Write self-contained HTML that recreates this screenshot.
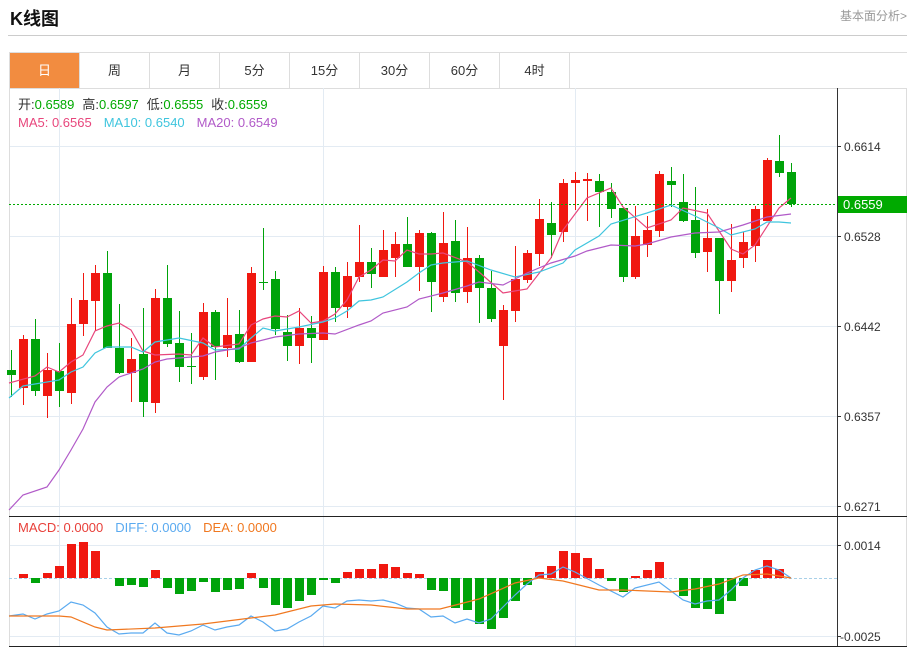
<!DOCTYPE html>
<html><head><meta charset="utf-8"><style>
body{margin:0;width:913px;height:647px;background:#fff;font-family:"Liberation Sans","Noto Sans CJK SC",sans-serif;overflow:hidden;position:relative}
.t{position:absolute;left:10px;top:5px;font-size:18px;font-weight:bold;color:#111}
.r{position:absolute;right:6px;top:7px;font-size:12px;color:#999}
.hl{position:absolute;left:8px;top:35px;width:899px;height:1px;background:#ccc}
.tabs{position:absolute;left:9px;top:52px;width:897px;height:35px;border:1px solid #ddd;border-right:none}
.tab{position:absolute;top:0;width:69px;height:35px;border-right:1px solid #ddd;text-align:center;line-height:35px;font-size:13px;color:#333}
.tab.a{background:#f28c40;color:#fff}
svg{position:absolute;left:0;top:0}
</style></head><body>
<div class="t">K线图</div><div class="r">基本面分析&gt;</div><div class="hl"></div>
<div class="tabs">
<div class="tab a" style="left:0">日</div><div class="tab" style="left:70px">周</div><div class="tab" style="left:140px">月</div><div class="tab" style="left:210px">5分</div><div class="tab" style="left:280px">15分</div><div class="tab" style="left:350px">30分</div><div class="tab" style="left:420px">60分</div><div class="tab" style="left:490px">4时</div>
</div>
<svg id="s" width="913" height="647" xmlns="http://www.w3.org/2000/svg" font-family="Liberation Sans, Noto Sans CJK SC, sans-serif">
<g stroke="#e3ebf3" stroke-width="1">
<line x1="9" y1="146.5" x2="837" y2="146.5"/><line x1="9" y1="236.5" x2="837" y2="236.5"/><line x1="9" y1="326.5" x2="837" y2="326.5"/><line x1="9" y1="416.5" x2="837" y2="416.5"/><line x1="9" y1="506.5" x2="837" y2="506.5"/>
<line x1="9" y1="545.5" x2="837" y2="545.5"/><line x1="9" y1="636.5" x2="837" y2="636.5"/>
<line x1="59.5" y1="88" x2="59.5" y2="646"/><line x1="323.5" y1="88" x2="323.5" y2="646"/><line x1="575.5" y1="88" x2="575.5" y2="646"/>
</g>
<line x1="9.5" y1="88" x2="9.5" y2="646" stroke="#ddd"/>
<line x1="906.5" y1="88" x2="906.5" y2="646" stroke="#ddd"/>
<line x1="837.5" y1="88" x2="837.5" y2="646" stroke="#333"/>
<line x1="9" y1="516.5" x2="907" y2="516.5" stroke="#222"/>
<line x1="9" y1="646.5" x2="907" y2="646.5" stroke="#222"/>
<line x1="9" y1="578.5" x2="837" y2="578.5" stroke="#a8d0e8" stroke-dasharray="3,2"/>
<g id="c"></g>
<g font-size="12" fill="#333">
<line x1="837" y1="146.5" x2="841" y2="146.5" stroke="#333"/><text x="844" y="151">0.6614</text>
<line x1="837" y1="236.5" x2="841" y2="236.5" stroke="#333"/><text x="844" y="241">0.6528</text>
<line x1="837" y1="326.5" x2="841" y2="326.5" stroke="#333"/><text x="844" y="331">0.6442</text>
<line x1="837" y1="416.5" x2="841" y2="416.5" stroke="#333"/><text x="844" y="421">0.6357</text>
<line x1="837" y1="506.5" x2="841" y2="506.5" stroke="#333"/><text x="844" y="511">0.6271</text>
<line x1="837" y1="545.5" x2="841" y2="545.5" stroke="#333"/><text x="844" y="550">0.0014</text>
<line x1="837" y1="636.5" x2="841" y2="636.5" stroke="#333"/><text x="840" y="641">-0.0025</text>
</g>
<line x1="9" y1="204.5" x2="837" y2="204.5" stroke="#0a0" stroke-dasharray="2,2"/>
<rect x="838" y="196" width="69" height="17" fill="#0a0"/>
<text x="843" y="209" font-size="13" fill="#fff">0.6559</text>
<g font-size="13">
<text x="18" y="109"><tspan fill="#333">开:</tspan><tspan fill="#0a0">0.6589</tspan><tspan fill="#333" dx="8">高:</tspan><tspan fill="#0a0">0.6597</tspan><tspan fill="#333" dx="8">低:</tspan><tspan fill="#0a0">0.6555</tspan><tspan fill="#333" dx="8">收:</tspan><tspan fill="#0a0">0.6559</tspan></text>
<text x="18" y="127"><tspan fill="#e8467c">MA5: 0.6565</tspan><tspan fill="#3fc5de" dx="12">MA10: 0.6540</tspan><tspan fill="#b15ac8" dx="12">MA20: 0.6549</tspan></text>
<text x="18" y="532"><tspan fill="#e8403a">MACD: 0.0000</tspan><tspan fill="#5aaaf0" dx="12">DIFF: 0.0000</tspan><tspan fill="#f07820" dx="12">DEA: 0.0000</tspan></text>
</g>
</svg>
<script>
var C=[[370,375,350,397],[388,339,335,405],[339,391,319,396],[396,370,353,418],[371,391,343,407],[393,324,298,404],[324,300,273,336],[301,273,265,331],[273,348,251,348],[348,373,304,374],[373,359,338,402],[354,402,308,417],[403,298,289,413],[298,344,265,347],[343,367,311,382],[366,367,333,384],[377,312,303,380],[312,347,310,380],[348,335,298,357],[334,362,310,363],[362,273,267,362],[282,283,228,290],[279,329,271,335],[332,346,315,361],[346,328,308,364],[328,338,316,363],[340,272,266,340],[272,308,267,322],[307,276,262,318],[277,262,225,282],[262,274,248,288],[277,250,230,277],[258,244,232,277],[244,267,217,267],[267,233,230,291],[233,282,232,312],[297,243,212,302],[241,293,220,302],[292,258,227,303],[258,288,255,323],[288,319,271,322],[346,310,305,400],[311,279,246,322],[280,253,250,283],[254,219,199,266],[223,235,202,258],[232,183,179,242],[183,180,172,210],[181,179,173,221],[181,192,174,227],[192,209,183,218],[208,277,208,282],[277,236,206,279],[245,230,216,257],[231,174,171,237],[181,185,167,207],[202,221,174,222],[220,253,187,258],[252,238,209,272],[238,281,238,314],[281,260,224,292],[258,242,232,268],[246,209,206,262],[221,160,158,221],[161,173,135,177],[172,204,163,207]];
var M=[0,574,583,573,566,544,542,551,578,586,585,587,570,588,594,591,582,592,590,589,573,588,605,608,601,595,580,583,572,569,569,564,567,573,574,590,591,608,610,624,629,618,601,585,572,566,551,553,558,569,581,592,576,570,562,578,596,608,609,614,601,586,570,560,569,578];
var h='',R='#f01810',G='#00a30a';
for(var i=0;i<C.length;i++){var x=11+i*12,c=C[i],up=c[1]<c[0],col=up?R:G,t=Math.min(c[0],c[1]),b=Math.max(c[0],c[1]);
h+='<line x1="'+(x+.5)+'" y1="'+c[2]+'" x2="'+(x+.5)+'" y2="'+c[3]+'" stroke="'+col+'"/>';
h+='<rect x="'+(x-4)+'" y="'+t+'" width="9" height="'+Math.max(1,b-t)+'" fill="'+col+'"/>';
var m=M[i];if(m&&m!=578){var mt=Math.min(m,578),mb=Math.max(m,578);h+='<rect x="'+(x-4)+'" y="'+mt+'" width="9" height="'+(mb-mt)+'" fill="'+(m<578?R:G)+'"/>';}}
function pl(p,c){return '<polyline fill="none" stroke="'+c+'" stroke-width="1.2" points="'+p+'"/>';}
h+=pl("9,383 35,376 47,367 59,372 71,362 83,355 95,331 107,326 119,323 131,330 143,351 155,355 179,354 191,355 203,338 215,347 239,344 251,325 263,319 275,316 287,317 299,311 311,323 323,321 335,314 347,300 359,277 371,270 383,260 395,261 407,250 419,254 431,254 443,253 467,262 479,272 503,293 527,289 551,258 563,230 587,198 611,188 623,207 647,228 671,220 683,208 707,213 731,249 743,254 755,245 779,208 791,198","#e8467c");
h+=pl("9,398 23,386 59,380 71,372 83,367 95,353 107,347 131,347 143,352 155,342 179,338 203,343 215,350 239,349 251,338 263,328 275,331 299,327 323,322 335,318 347,311 359,301 371,300 383,297 407,282 419,273 431,265 443,263 467,261 491,270 515,277 539,272 563,263 575,250 599,236 611,224 647,213 671,205 695,216 719,228 731,235 755,229 767,222 779,222 791,223","#3fc5de");
h+=pl("9,510 23,495 47,487 59,470 71,450 83,429 95,402 107,387 119,377 143,369 155,362 167,359 191,357 203,356 215,352 239,348 251,343 275,337 299,334 323,333 335,334 359,325 371,321 383,313 407,307 419,299 443,293 467,286 479,282 503,285 527,273 551,263 575,256 587,251 611,245 635,246 647,244 671,237 695,233 719,232 743,225 767,217 791,214","#b15ac8");
h+=pl("9,616 23,614 35,619 47,614 59,611 71,602 83,605 95,613 107,627 119,634 131,633 143,633 155,623 167,633 179,635 191,631 203,625 215,630 227,627 239,625 251,616 263,622 275,631 287,629 299,622 311,616 323,606 335,608 347,601 359,600 371,601 383,600 395,603 407,608 419,609 431,617 443,616 455,623 467,619 479,623 491,619 503,607 515,595 527,584 539,575 551,574 563,567 575,572 599,585 623,597 635,588 659,582 683,600 695,604 707,601 719,600 731,590 743,578 755,570 767,566 779,570 791,578","#5aaaf0");
h+=pl("9,616 59,616 71,617 95,627 107,630 155,628 203,624 251,618 275,615 311,606 335,604 371,605 407,609 440,609 479,599 515,583 539,578 563,581 599,590 623,590 671,592 695,589 719,584 743,575 767,574 791,578","#f07820");
document.getElementById('c').innerHTML=h;
</script>
</body></html>
